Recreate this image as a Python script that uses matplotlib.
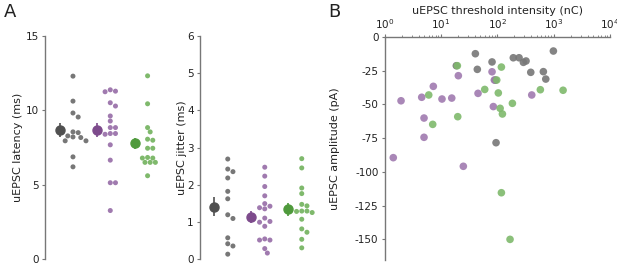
import numpy as np
import matplotlib
matplotlib.use("Agg")
import matplotlib.pyplot as plt

# --- data ---
groups = ["grey", "purple", "green"]
pt_colors = ["#777777", "#a07aaf", "#7fb96c"]
mean_colors = ["#505050", "#7d4b8c", "#4f9a3c"]

latency_grey = [12.3, 10.62, 9.82, 9.55, 8.55, 8.5, 8.28, 8.21, 8.17, 7.95, 7.95, 6.87, 6.2]
latency_purple = [11.29, 11.25, 11.38, 10.51, 10.29, 9.62, 9.28, 8.84, 8.84, 8.44, 8.44, 8.39,
                  7.68, 6.65, 5.13, 5.13, 3.26]
latency_green = [12.32, 10.44, 8.84, 8.55, 8.06, 7.99, 7.45, 7.45, 6.83, 6.79, 6.79, 6.5, 6.5,
                 6.5, 5.6]
latency_mean = [8.68, 8.68, 7.77]
latency_err = [0.45, 0.5, 0.35]

jitter_grey = [2.69, 2.35, 2.42, 2.18, 1.82, 1.62, 1.19, 1.09, 0.57, 0.41, 0.35, 0.13]
jitter_purple = [2.47, 2.23, 1.95, 1.7, 1.38, 1.42, 1.49, 1.35, 1.1, 0.99, 1.01, 0.88, 0.54,
                 0.51, 0.51, 0.28, 0.16]
jitter_green = [2.7, 2.45, 1.91, 1.76, 1.47, 1.43, 1.28, 1.29, 1.29, 1.25, 1.07, 0.81, 0.72,
                0.53, 0.3]
jitter_mean = [1.41, 1.13, 1.34]
jitter_err = [0.26, 0.17, 0.17]

thr_grey = [40.7, 44.1, 80.5, 18.7, 192, 243, 290, 323, 392, 656, 724, 988, 94.8, 92]
amp_grey = [-12.4, -24.0, -18.5, -21.3, -15.4, -15.4, -18.8, -17.8, -26.2, -25.7, -31.2, -10.4,
            -78.4, -32.0]
thr_purple = [1.95, 4.54, 7.3, 10.4, 15.5, 20.3, 45.4, 80.5, 88.4, 84.9, 4.99, 4.99, 1.42, 24.9, 408]
amp_purple = [-47.3, -44.7, -36.6, -46.0, -45.3, -28.7, -41.8, -25.8, -31.9, -51.6, -60.1, -74.4,
              -89.5, -95.9, -43.0]
thr_green = [6.05, 19.5, 19.8, 7.12, 59.7, 97.5, 118, 104, 185, 112, 123, 580, 1469, 118, 168]
amp_green = [-43.0, -21.3, -59.1, -64.8, -38.9, -31.9, -22.3, -41.5, -49.2, -52.9, -57.1, -39.1,
             -39.5, -115.5, -150.1]

W, H = 617, 263
plt.rcParams['font.family'] = ['DejaVu Sans']
plt.rcParams['axes.unicode_minus'] = False
fig = plt.figure(figsize=(W / 100, H / 100), dpi=100)
TXT = "#222222"
SP = "#777777"


def px_axes(x0, y0, x1, y1):
    return fig.add_axes([x0 / W, 1 - y1 / H, (x1 - x0) / W, (y1 - y0) / H])


def swarm(vals, ypx, diam):
    # simple beeswarm: returns x offsets in px
    order = np.argsort(vals)[::-1]
    placed = []
    offs = np.zeros(len(vals))
    for i in order:
        y = vals[i] * ypx
        cands = [0.0]
        for k in range(1, 12):
            cands += [k * diam * 0.5, -k * diam * 0.5]
        for c in cands:
            if all((c - px) ** 2 + (y - py) ** 2 >= (diam * 0.95) ** 2 for px, py in placed):
                offs[i] = c
                placed.append((c, y))
                break
    return offs


def style_left(ax):
    for s in ["top", "right", "bottom"]:
        ax.spines[s].set_visible(False)
    ax.spines["left"].set_color(SP)
    ax.spines["left"].set_linewidth(1.0)
    ax.tick_params(axis="y", length=2.5, width=0.8, color=SP, labelsize=7.5, labelcolor=TXT, pad=2)
    ax.set_xticks([])


def dot_panel(ax, data, means, errs, ylim, yticks, ylabel, spacing, mean_off, ypx, lab_x):
    for g, vals in enumerate(data):
        vals = np.array(vals)
        offs = swarm(vals, ypx, 5.2) / spacing
        ax.scatter(g + offs, vals, s=13, color=pt_colors[g], edgecolors="none", zorder=3,
                   clip_on=False)
        ax.errorbar(g + mean_off, means[g], yerr=errs[g], fmt="o", ms=6.5, color=mean_colors[g],
                    elinewidth=1.2, capsize=0, zorder=4, clip_on=False)
    ax.set_ylim(*ylim)
    ax.set_yticks(yticks)
    ax.set_ylabel(ylabel, fontsize=8, color=TXT)
    ax.yaxis.set_label_coords(lab_x, 0.5)
    style_left(ax)


# Panel A, latency
ax1 = px_axes(45, 36, 170, 259)
ax1.set_xlim(-0.75, -0.75 + 125 / 37.3)
dot_panel(ax1, [latency_grey, latency_purple, latency_green], latency_mean, latency_err,
          (0, 15), [0, 5, 10, 15], "uEPSC latency (ms)", 37.3, -0.35, 223 / 15, -22 / 125)

# Panel A, jitter
ax2 = px_axes(200, 36, 320, 259)
ax2.set_xlim(-0.75, -0.75 + 120 / 37.0)
dot_panel(ax2, [jitter_grey, jitter_purple, jitter_green], jitter_mean, jitter_err,
          (0, 6), range(0, 7), "uEPSC jitter (ms)", 37.0, -0.37, 223 / 6, -13 / 120)

# Panel B
ax3 = px_axes(384.7, 37, 610, 260)
for xs, ys, c in [(thr_grey, amp_grey, pt_colors[0]), (thr_purple, amp_purple, pt_colors[1]),
                  (thr_green, amp_green, pt_colors[2])]:
    ax3.scatter(xs, ys, s=30, color=c, edgecolors="none", alpha=0.9, zorder=3, clip_on=False)
ax3.set_xscale("log")
ax3.set_xlim(1, 1e4)
ax3.set_ylim(-165.4, 0)
ax3.set_yticks([0, -25, -50, -75, -100, -125, -150])
ax3.xaxis.tick_top()
ax3.xaxis.set_label_position("top")
ax3.set_xlabel("uEPSC threshold intensity (nC)", fontsize=8, color=TXT, labelpad=2)
ax3.set_ylabel("uEPSC amplitude (pA)", fontsize=8, color=TXT)
ax3.yaxis.set_label_coords(-45 / 225, 0.5)
for s in ["right", "bottom"]:
    ax3.spines[s].set_visible(False)
for s in ["left", "top"]:
    ax3.spines[s].set_color(SP)
    ax3.spines[s].set_linewidth(1.0)
ax3.tick_params(axis="both", which="major", length=2.5, width=0.8, color=SP, labelsize=7.5,
                labelcolor=TXT, pad=2)
ax3.tick_params(axis="x", which="minor", length=1.5, width=0.6, color=SP)

fig.text(4 / W, 1 - 12 / H, "A", fontsize=13, color=TXT, va="center", ha="left")
fig.text(328 / W, 1 - 12 / H, "B", fontsize=13, color=TXT, va="center", ha="left")

fig.savefig("out.png", dpi=100)
